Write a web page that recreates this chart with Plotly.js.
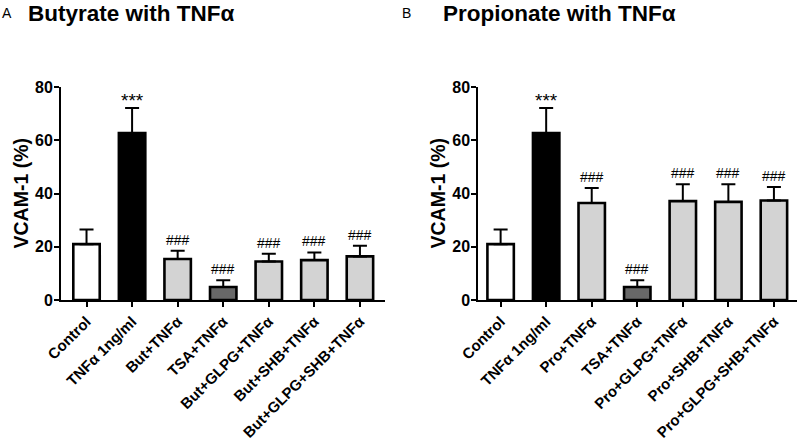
<!DOCTYPE html>
<html>
<head>
<meta charset="utf-8">
<script src="https://cdn.plot.ly/plotly-3.0.1.min.js"></script>
<style>html,body{margin:0;padding:0;background:#fff;}#chart{width:800px;height:446px;}</style>
</head>
<body>
<div id="chart"></div>
<script>
// ---- data ----
const catsA = ["Control", "TNFα 1ng/ml", "But+TNFα", "TSA+TNFα", "But+GLPG+TNFα", "But+SHB+TNFα", "But+GLPG+SHB+TNFα"];
const valsA = [21.0, 62.8, 15.4, 4.9, 14.5, 15.0, 16.4];
const errA  = [5.5, 9.4, 3.1, 2.5, 2.9, 2.9, 4.0];
const sigA  = ["", "***", "###", "###", "###", "###", "###"];

const catsB = ["Control", "TNFα 1ng/ml", "Pro+TNFα", "TSA+TNFα", "Pro+GLPG+TNFα", "Pro+SHB+TNFα", "Pro+GLPG+SHB+TNFα"];
const valsB = [21.0, 62.8, 36.5, 4.9, 37.2, 36.9, 37.4];
const errB  = [5.5, 9.4, 5.6, 2.5, 6.3, 6.6, 5.1];
const sigB  = ["", "***", "###", "###", "###", "###", "###"];

const barColors = ["#ffffff", "#000000", "#d3d3d3", "#686868", "#d3d3d3", "#d3d3d3", "#d3d3d3"];
const yTicks = [0, 20, 40, 60, 80];
const titleA = "Butyrate with TNFα";
const titleB = "Propionate with TNFα";
const yTitle = "VCAM-1 (%)";

// ---- chart ----
const FONT = "Liberation Sans, Arial, Helvetica, sans-serif";
const W = 800, H = 446;

function barTrace(cats, vals, errs, xa, ya) {
  return {
    type: "bar", x: cats, y: vals, xaxis: xa, yaxis: ya,
    width: 0.58,
    marker: { color: barColors, line: { color: "#000", width: 2.6 } },
    error_y: { type: "data", symmetric: false, array: errs, arrayminus: errs.map(() => 0),
               color: "#000", thickness: 2, width: 7 },
    showlegend: false, hoverinfo: "skip"
  };
}

function sigAnn(cats, vals, errs, sig, xref, yref) {
  return cats.map((c, i) => {
    const star = sig[i].indexOf("*") >= 0;
    return {
      x: c, y: vals[i] + errs[i], xref: xref, yref: yref,
      text: sig[i], showarrow: false, yanchor: "bottom", yshift: star ? -5 : 1,
      font: { family: FONT, size: star ? 19 : 14, color: "#000" }
    };
  }).filter(a => a.text);
}

function xAxis(domain, range) {
  return {
    domain: domain, range: range, type: "category", showline: true, linecolor: "#000", linewidth: 2,
    ticks: "outside", ticklen: 5, tickwidth: 2, tickcolor: "#000", tickangle: -45,
    tickfont: { family: FONT, size: 15, color: "#000", weight: "bold" },
    showgrid: false, zeroline: false, fixedrange: true, automargin: false
  };
}
function yAxis(anchor) {
  return {
    domain: [1 - 300 / H, 1 - 87.3 / H], range: [0, 80], anchor: anchor,
    tickvals: yTicks, showline: true, linecolor: "#000", linewidth: 2,
    ticks: "outside", ticklen: 5, tickwidth: 2, tickcolor: "#000", ticklabelstandoff: -2,
    tickfont: { family: FONT, size: 16, color: "#000", weight: "bold" },
    showgrid: false, zeroline: false, fixedrange: true, automargin: false
  };
}

const data = [
  barTrace(catsA, valsA, errA, "x", "y"),
  barTrace(catsB, valsB, errB, "x2", "y2")
];

const annotations = [
  ...sigAnn(catsA, valsA, errA, sigA, "x", "y"),
  ...sigAnn(catsB, valsB, errB, sigB, "x2", "y2"),
  { xref: "paper", yref: "paper", x: 0 / W, y: 1 - 3 / H, xanchor: "left", yanchor: "top", text: "A",
    showarrow: false, font: { family: FONT, size: 14, color: "#000" } },
  { xref: "paper", yref: "paper", x: 400 / W, y: 1 - 3 / H, xanchor: "left", yanchor: "top", text: "B",
    showarrow: false, font: { family: FONT, size: 14, color: "#000" } },
  { xref: "paper", yref: "paper", x: 26 / W, y: 1 + 1 / H, xanchor: "left", yanchor: "top", text: titleA,
    showarrow: false, font: { family: FONT, size: 22.5, color: "#000", weight: "bold" } },
  { xref: "paper", yref: "paper", x: 441 / W, y: 1 + 1 / H, xanchor: "left", yanchor: "top", text: titleB,
    showarrow: false, font: { family: FONT, size: 22.5, color: "#000", weight: "bold" } },
  { xref: "paper", yref: "paper", x: 20 / W, y: 1 - 193.5 / H, xanchor: "center", yanchor: "middle", text: yTitle,
    textangle: -90, showarrow: false, font: { family: FONT, size: 19.5, color: "#000", weight: "bold" } },
  { xref: "paper", yref: "paper", x: 437 / W, y: 1 - 193.5 / H, xanchor: "center", yanchor: "middle", text: yTitle,
    textangle: -90, showarrow: false, font: { family: FONT, size: 19.5, color: "#000", weight: "bold" } }
];

const layout = {
  width: W, height: H, margin: { l: 0, r: 0, t: 0, b: 0 },
  paper_bgcolor: "#fff", plot_bgcolor: "#fff",
  xaxis: xAxis([61 / W, 385 / W], [-0.56, 6.55]),
  yaxis: yAxis("x"),
  xaxis2: Object.assign(xAxis([478.3 / W, 796.7 / W], [-0.49, 6.5]), { anchor: "y2" }),
  yaxis2: yAxis("x2"),
  annotations: annotations,
  bargap: 0.4
};
layout.xaxis.anchor = "y";

Plotly.newPlot("chart", data, layout, { staticPlot: true, displayModeBar: false });
</script>
</body>
</html>
